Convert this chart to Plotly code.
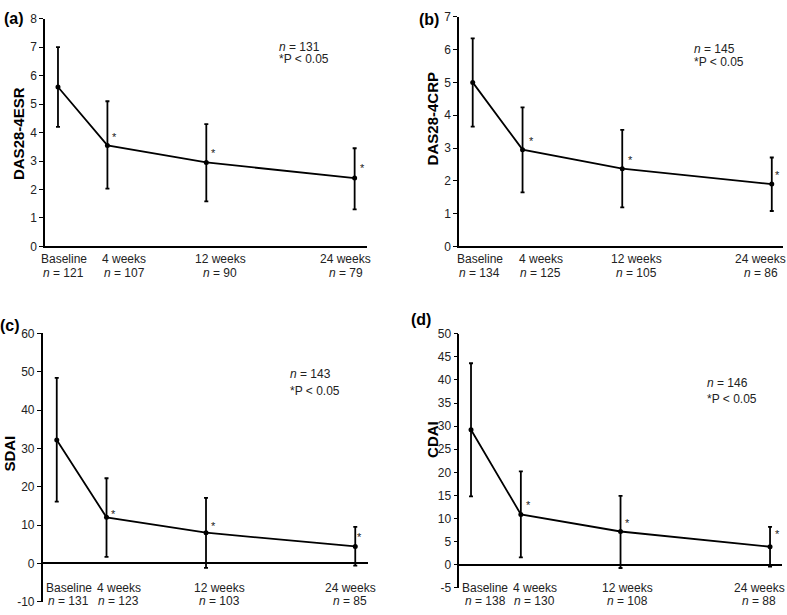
import plotly.graph_objects as go

# ---------------- data ----------------
weeks = [0, 4, 12, 24]
time_labels = ["Baseline", "4 weeks", "12 weeks", "24 weeks"]

esr_mean = [5.6, 3.55, 2.95, 2.4]
esr_upper = [7.0, 5.1, 4.3, 3.45]
esr_lower = [4.2, 2.03, 1.58, 1.3]
esr_n = [121, 107, 90, 79]
esr_total = 131

crp_mean = [5.0, 2.95, 2.37, 1.9]
crp_upper = [6.34, 4.24, 3.55, 2.71]
crp_lower = [3.65, 1.65, 1.19, 1.08]
crp_n = [134, 125, 105, 86]
crp_total = 145

sdai_mean = [32.2, 12.0, 8.0, 4.4]
sdai_upper = [48.4, 22.2, 17.1, 9.5]
sdai_lower = [16.1, 1.7, -1.2, -0.6]
sdai_n = [131, 123, 103, 85]
sdai_total = 143

cdai_mean = [29.2, 10.9, 7.2, 3.9]
cdai_upper = [43.6, 20.2, 14.9, 8.2]
cdai_lower = [14.8, 1.6, -0.7, -0.4]
cdai_n = [138, 130, 108, 88]
cdai_total = 146

esr_ticks = [0, 1, 2, 3, 4, 5, 6, 7, 8]
crp_ticks = [0, 1, 2, 3, 4, 5, 6, 7]
sdai_ticks = [-10, 0, 10, 20, 30, 40, 50, 60]
cdai_ticks = [-5, 0, 5, 10, 15, 20, 25, 30, 35, 40, 45, 50]

titles = ["DAS28-4ESR", "DAS28-4CRP", "SDAI", "CDAI"]
letters = ["(a)", "(b)", "(c)", "(d)"]
p_text = "*P < 0.05"

W, H = 787, 615
FONT = "Liberation Sans, Arial, sans-serif"


def px_x(px):
    return px / W


def px_y(py):
    return 1 - py / H


panels = [
    dict(mean=esr_mean, up=esr_upper, lo=esr_lower, n=esr_n, tot=esr_total, ticks=esr_ticks),
    dict(mean=crp_mean, up=crp_upper, lo=crp_lower, n=crp_n, tot=crp_total, ticks=crp_ticks),
    dict(mean=sdai_mean, up=sdai_upper, lo=sdai_lower, n=sdai_n, tot=sdai_total, ticks=sdai_ticks),
    dict(mean=cdai_mean, up=cdai_upper, lo=cdai_lower, n=cdai_n, tot=cdai_total, ticks=cdai_ticks),
]

# ---------------- layout geometry (pixels) ----------------
geo = [
    dict(x0=45, x1=367, top=12, bot=245, xr=[-1.05, 25.0],
         lab_y=(258, 272), lab_dx=[6, 17, 14, -9], ttl=(18, 130), let=(14, 12),
         nt=(278, 40.5, 53), ast=[(7, 8), (7, 9), (8, 10)], zero=False),
    dict(x0=459, x1=783, top=10, bot=245, xr=[-1.1, 24.9],
         lab_y=(258, 272), lab_dx=[7, 18, 14, -11], ttl=(432, 115), let=(429, 13),
         nt=(693, 43, 56), ast=[(9, 9), (8, 9), (6, 9)], zero=False),
    dict(x0=42.7, x1=367.7, top=334, bot=608.5, xr=[-1.13, 25.0],
         lab_y=(595, 608), lab_dx=[12, 12, 13, -5], ttl=(10, 457), let=(10, 326),
         nt=(289, 376, 393), ast=[(7, 3), (7, 7), (4, 9)], zero=True),
    dict(x0=459.3, x1=782, top=334.3, bot=594.4, xr=[-0.94, 24.96],
         lab_y=(595, 608), lab_dx=[14, 14, 7, -11], ttl=(433, 443), let=(421, 320),
         nt=(706, 385, 401.5), ast=[(8, 9), (7, 8), (7, 13)], zero=True),
]

fig = go.Figure()
annotations = []

for i, (p, g) in enumerate(zip(panels, geo)):
    k = "" if i == 0 else str(i + 1)
    xa, ya = "x" + k, "y" + k
    err_plus = [u - m for u, m in zip(p["up"], p["mean"])]
    err_minus = [m - l for m, l in zip(p["mean"], p["lo"])]
    fig.add_trace(go.Scatter(
        x=weeks, y=p["mean"], mode="lines+markers",
        line=dict(color="black", width=1.8),
        marker=dict(color="black", size=5),
        error_y=dict(type="data", symmetric=False, array=err_plus,
                     arrayminus=err_minus, color="black", thickness=1.8, width=2),
        xaxis=xa, yaxis=ya, showlegend=False, hoverinfo="skip",
    ))
    fig.layout["xaxis" + k] = dict(
        domain=[px_x(g["x0"]), px_x(g["x1"])], range=g["xr"],
        showline=not g["zero"], linecolor="black", linewidth=1.5,
        showticklabels=False, ticks="", showgrid=False, zeroline=False,
        anchor=ya, fixedrange=True,
    )
    t = p["ticks"]
    fig.layout["yaxis" + k] = dict(
        domain=[px_y(g["bot"]), px_y(g["top"])], range=[t[0], t[-1]],
        tickmode="array", tickvals=t, ticktext=[str(v) for v in t],
        showline=True, linecolor="black", linewidth=1.5,
        ticks="outside", ticklen=4, tickwidth=1, tickcolor="black",
        tickfont=dict(family=FONT, size=12, color="#222"),
        showgrid=False, zeroline=g["zero"], zerolinecolor="black", zerolinewidth=1.5,
        anchor=xa, fixedrange=True,
    )
    # category labels
    for j, (wk, lab, nn) in enumerate(zip(weeks, time_labels, p["n"])):
        annotations.append(dict(
            x=wk, xref=xa, y=px_y(g["lab_y"][0]), yref="paper", text=lab,
            showarrow=False, xshift=g["lab_dx"][j], xanchor="center", yanchor="middle",
            borderpad=0, font=dict(family=FONT, size=12, color="#222")))
        annotations.append(dict(
            x=wk, xref=xa, y=px_y(g["lab_y"][1]), yref="paper",
            text="<i>n</i> = %d" % nn,
            showarrow=False, xshift=g["lab_dx"][j], xanchor="center", yanchor="middle",
            borderpad=0, font=dict(family=FONT, size=12, color="#222")))
    # significance asterisks
    for j in range(1, 4):
        dx, dy = g["ast"][j - 1]
        annotations.append(dict(
            x=weeks[j], xref=xa, y=p["mean"][j], yref=ya, text="*",
            showarrow=False, xshift=dx, yshift=dy, xanchor="center", yanchor="middle",
            borderpad=0, font=dict(family=FONT, size=11, color="#222")))
    # n / P annotation
    annotations.append(dict(
        x=px_x(g["nt"][0]), y=px_y(g["nt"][1]), xref="paper", yref="paper",
        text="<i>n</i> = %d" % p["tot"], showarrow=False, xanchor="left", yanchor="middle",
        borderpad=0, font=dict(family=FONT, size=12, color="#222")))
    annotations.append(dict(
        x=px_x(g["nt"][0]), y=px_y(g["nt"][2]), xref="paper", yref="paper",
        text=p_text, showarrow=False, xanchor="left", yanchor="middle",
        borderpad=0, font=dict(family=FONT, size=12, color="#222")))
    # y-axis title
    annotations.append(dict(
        x=px_x(g["ttl"][0]), y=px_y(g["ttl"][1]), xref="paper", yref="paper",
        text="<b>%s</b>" % titles[i], textangle=-90, showarrow=False,
        xanchor="center", yanchor="middle", borderpad=0,
        font=dict(family=FONT, size=15, color="black")))
    # panel letter
    annotations.append(dict(
        x=px_x(g["let"][0]), y=px_y(g["let"][1]), xref="paper", yref="paper",
        text="<b>%s</b>" % letters[i], showarrow=False,
        xanchor="center", yanchor="middle", borderpad=0,
        font=dict(family=FONT, size=16, color="black")))

fig.update_layout(
    width=W, height=H, margin=dict(l=0, r=0, t=0, b=0),
    paper_bgcolor="white", plot_bgcolor="white",
    annotations=annotations, showlegend=False,
)

post = ("document.body.style.margin='0';document.body.style.overflow='hidden';"
        "var d=document.getElementById('{plot_id}');"
        "d.style.position='absolute';d.style.left='0px';d.style.top='0px';")
fig.write_html("out.html", post_script=post, config={"displayModeBar": False})
